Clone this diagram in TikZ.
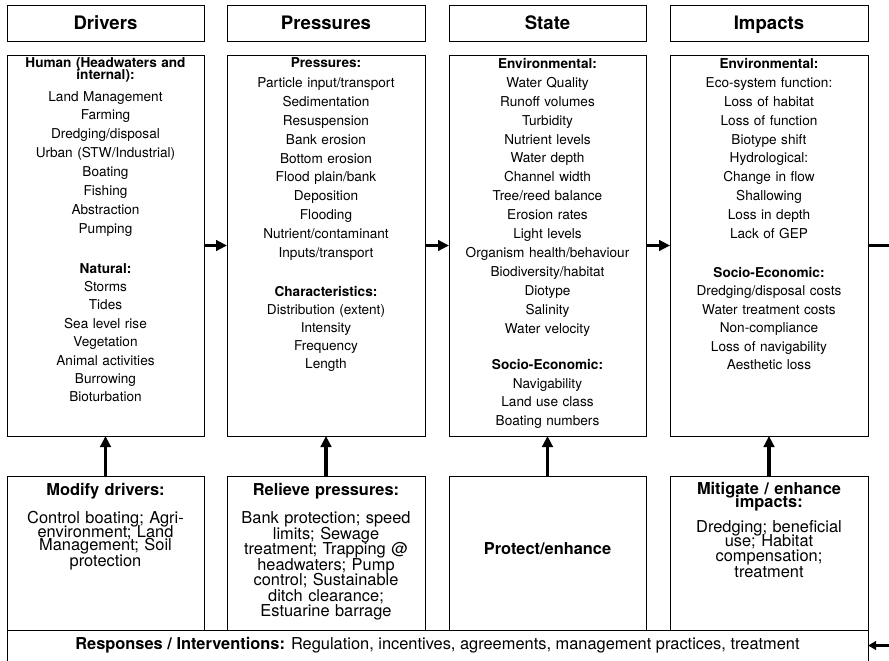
\documentclass[tikz,border=0pt]{standalone}
\usepackage{fontspec}
\setmainfont{TeX Gyre Heros}
\usetikzlibrary{arrows.meta}

\begin{document}
\begin{tikzpicture}[x=1pt,y=-1pt,
  frame/.style={draw, line width=0.85pt},
  box/.style={frame, inner sep=0pt, outer sep=0pt, anchor=north west},
  headbox/.style={box, minimum height=36pt, text height=13.4pt, text depth=0pt,
    font=\bfseries\fontsize{18.6}{22}\selectfont},
  mainbox/.style={box, minimum height=381pt},
  actbox/.style={box, minimum height=154pt},
  list/.style={anchor=base, align=center, text width=192pt, inner sep=0pt,
    font=\fontsize{13.6}{18.9}\selectfont},
  actlist/.style={anchor=base, align=center, text width=192pt, inner sep=0pt},
  tight/.style={font=\fontsize{16.4}{#1}\selectfont},
  flow/.style={line width=3.6pt, -{Triangle[length=11pt,width=10.5pt]}},
  feed/.style={line width=3.6pt},
  back/.style={line width=2.6pt, -{Triangle[length=8pt,width=8.5pt]}}]

\useasboundingbox (0,0) rectangle (889,661);

% column headings
\node[headbox, minimum width=197pt] (hdrv) at (7,5)   {Drivers};
\node[headbox, minimum width=198pt] (hprs) at (227,5) {Pressures};
\node[headbox, minimum width=197pt] (hsta) at (449,5) {State};
\node[headbox, minimum width=198pt] (himp) at (670,5) {Impacts};

% main columns
\node[mainbox, minimum width=197pt] (drv) at (7,55)   {};
\node[mainbox, minimum width=198pt] (prs) at (227,55) {};
\node[mainbox, minimum width=197pt] (sta) at (449,55) {};
\node[mainbox, minimum width=198pt] (imp) at (670,55) {};

\node[list] (drvtxt) at (drv.north |- 0,67.5) {%
  \lineskiplimit=-100pt\relax
  \textbf{Human (Headwaters and}\\[-7.2pt]\textbf{internal):}\\[2.9pt]
  Land Management\\Farming\\Dredging/disposal\\Urban (STW/Industrial)\\
  Boating\\Fishing\\Abstraction\\Pumping\\[21pt]
  \textbf{Natural:}\\[-0.5pt]Storms\\[-0.5pt]Tides\\[-0.5pt]Sea level rise\\[-0.5pt]
  Vegetation\\[-0.5pt]Animal activities\\[-0.5pt]Burrowing\\[-0.5pt]Bioturbation};

\node[list] (prstxt) at (prs.north |- 0,67.5) {%
  \textbf{Pressures:}\\[1.1pt]
  Particle input/transport\\Sedimentation\\Resuspension\\Bank erosion\\
  Bottom erosion\\Flood plain/bank\\Deposition\\Flooding\\
  Nutrient/contaminant\\Inputs/transport\\[20pt]
  \textbf{Characteristics:}\\[-1pt]Distribution (extent)\\[-0.8pt]Intensity\\[-0.8pt]
  Frequency\\[-0.8pt]Length};

\node[list] (statxt) at (sta.north |- 0,68.5) {%
  \textbf{Environmental:}\\
  Water Quality\\Runoff volumes\\Turbidity\\Nutrient levels\\Water depth\\
  Channel width\\Tree/reed balance\\Erosion rates\\Light levels\\
  Organism health/behaviour\\Biodiversity/habitat\\Diotype\\Salinity\\
  Water velocity\\[18pt]
  \textbf{Socio-Economic:}\\[-0.5pt]Navigability\\[-0.5pt]Land use class\\[-0.5pt]Boating numbers};

\node[list] (imptxt) at (imp.north |- 0,68.5) {%
  \textbf{Environmental:}\\
  Eco-system function:\\Loss of habitat\\Loss of function\\Biotype shift\\
  Hydrological:\\Change in flow\\Shallowing\\Loss in depth\\Lack of GEP\\[20pt]
  \textbf{Socio-Economic:}\\[-0.4pt]Dredging/disposal costs\\[-0.4pt]Water treatment costs\\[-0.4pt]
  Non-compliance\\[-0.4pt]Loss of navigability\\[-0.4pt]Aesthetic loss};

% response boxes
\node[actbox, minimum width=197pt] (mdrv) at (7,476)   {};
\node[actbox, minimum width=198pt] (mprs) at (227,476) {};
\node[actbox, minimum width=197pt] (msta) at (449,476) {};
\node[actbox, minimum width=198pt] (mimp) at (670,476) {};

% the measures are set on a tight fixed baseline grid
\node[actlist, tight=13.6] (mdrvtxt) at (mdrv.north |- 0,495.5) {%
  \lineskiplimit=-100pt\relax
  \textbf{Modify drivers:}\\[14.4pt]
  Control boating; Agri-\\environment; Land\\Management; Soil\\protection};

\node[actlist, tight=15.5] (mprstxt) at (mprs.north |- 0,495.5) {%
  \lineskiplimit=-100pt\relax
  \textbf{Relieve pressures:}\\[12.5pt]
  Bank protection; speed\\limits; Sewage\\treatment; Trapping @\\headwaters; Pump\\
  control; Sustainable\\ditch clearance;\\Estuarine barrage};

\node[font=\bfseries\fontsize{16.4}{20}\selectfont, inner sep=0pt] (mstatxt) at (msta.center |- 0,549) {Protect/enhance};

\node[actlist, tight=13] (mimptxt) at (mimp.north |- 0,494.5) {%
  \lineskiplimit=-100pt\relax
  \textbf{Mitigate / enhance}\\\textbf{impacts:}\\[12pt]
  Dredging; beneficial\\[1.3pt]use; Habitat\\[1.3pt]compensation;\\[1.3pt]treatment};

% responses band along the bottom
\node[anchor=north west, inner sep=0pt, outer sep=0pt, minimum width=861pt, minimum height=31pt,
  font=\fontsize{16.4}{18}\selectfont] (resp) at (7,630)
  {\textbf{Responses / Interventions:} Regulation, incentives, agreements, management practices, treatment};
\draw[frame] (resp.south west) -- (resp.north west) -- (resp.north east) -- (resp.south east);

% chain of effects
\draw[flow] (drv.east) -- (prs.west);
\draw[flow] (prs.east) -- (sta.west);
\draw[flow] (sta.east) -- (imp.west);
\coordinate (outR) at (889,245.5);
\draw[feed] (imp.east) -- (outR);

% interventions acting on each column
\draw[flow] (mdrv.north) -- (drv.south);
\draw[flow] (mprs.north) -- (prs.south);
\draw[flow] (msta.north) -- (sta.south);
\draw[flow] (mimp.north) -- (imp.south);

\coordinate (inR) at (889,645.5);
\draw[back] (inR) -- (resp.east);
\end{tikzpicture}
\end{document}
